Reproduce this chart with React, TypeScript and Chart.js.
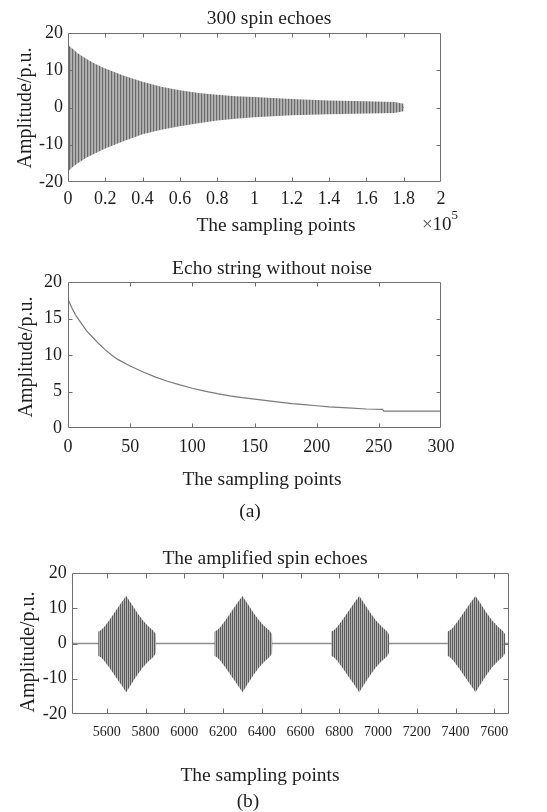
import React, { useEffect, useRef } from 'react';
import { Chart, registerables } from 'chart.js';

Chart.register(...registerables);

const SERIF = "'Liberation Serif', 'Times New Roman', Times, serif";
const INK = '#1e1e1e';
const FRAME = '#707070';

// ---- (a) upper panel: envelope of the 300-echo train ----
const trainX = [0, 2500, 5000, 10000, 15000, 20000, 30000, 40000, 50000, 60000, 70000, 80000, 90000, 100000, 120000, 140000, 160000, 175000, 180000];
const trainUpper = [16.8, 15.8, 14.6, 13.0, 11.6, 10.5, 8.5, 6.9, 5.6, 4.6, 3.9, 3.4, 3.0, 2.8, 2.3, 1.9, 1.7, 1.5, 1.0];
const trainLower = [-17.2, -16.0, -15.0, -13.4, -12.2, -11.0, -9.0, -7.2, -6.0, -5.0, -4.2, -3.5, -3.0, -2.6, -2.1, -1.8, -1.6, -1.5, -1.0];
const trainXTicks = [0, 20000, 40000, 60000, 80000, 100000, 120000, 140000, 160000, 180000, 200000];
const trainYTicks = [-20, -10, 0, 10, 20];

// ---- (a) lower panel: echo peak amplitudes ----
const echoIndex = [0, 3, 6, 10, 15, 20, 25, 30, 35, 40, 50, 60, 70, 80, 90, 100, 110, 120, 130, 140, 150, 160, 170, 180, 190, 200, 210, 225, 240, 253, 254, 300];
const echoAmplitude = [17.6, 16.5, 15.5, 14.5, 13.3, 12.4, 11.5, 10.7, 10.0, 9.4, 8.5, 7.7, 7.0, 6.4, 5.9, 5.45, 5.05, 4.7, 4.4, 4.15, 3.95, 3.75, 3.55, 3.35, 3.2, 3.05, 2.9, 2.75, 2.6, 2.55, 2.3, 2.3];
const echoXTicks = [0, 50, 100, 150, 200, 250, 300];
const echoYTicks = [0, 5, 10, 15, 20];

// ---- (b) amplified echoes ----
const burstStarts = [5555, 6155, 6758, 7358];
const burstOffsets = [0, 15, 30, 60, 90, 120, 145, 170, 200, 230, 260, 285, 298, 300];
const burstUpper = [3.3, 3.8, 4.6, 6.8, 9.2, 11.6, 13.5, 11.4, 8.9, 6.6, 4.8, 3.6, 2.6, 0];
const burstLower = [-3.5, -4.0, -4.8, -7.0, -9.4, -11.8, -13.8, -11.6, -9.1, -6.8, -5.0, -3.8, -2.8, 0];
const ampXRange = [5420, 7676];
const ampXTicks = [5600, 5800, 6000, 6200, 6400, 6600, 6800, 7000, 7200, 7400, 7600];
const ampYTicks = [-20, -10, 0, 10, 20];

const pts = (xs: number[], ys: number[]) => xs.map((x, i) => ({ x, y: ys[i] }));

// Box around the plot area with inward tick marks on all four sides
const frameTicks = {
  id: 'frameTicks',
  afterDraw(chart: any, _args: any, opts: any) {
    const { ctx, chartArea: a, scales } = chart;
    const len = opts.len ?? 4;
    ctx.save();
    ctx.strokeStyle = FRAME;
    ctx.lineWidth = 1;
    ctx.beginPath();
    const L = Math.round(a.left) + 0.5, R = Math.round(a.right) - 0.5;
    const T = Math.round(a.top) + 0.5, B = Math.round(a.bottom) - 0.5;
    ctx.rect(L, T, R - L, B - T);
    for (const t of scales.x.ticks) {
      const px = Math.round(scales.x.getPixelForValue(t.value)) + 0.5;
      if (px <= L + 1 || px >= R - 1) continue;
      ctx.moveTo(px, B); ctx.lineTo(px, B - len);
      ctx.moveTo(px, T); ctx.lineTo(px, T + len);
    }
    for (const t of scales.y.ticks) {
      const py = Math.round(scales.y.getPixelForValue(t.value)) + 0.5;
      if (py <= T + 1 || py >= B - 1) continue;
      ctx.moveTo(L, py); ctx.lineTo(L + len, py);
      ctx.moveTo(R, py); ctx.lineTo(R - len, py);
    }
    ctx.stroke();
    ctx.restore();
  },
};

// Vertical hatch used to fill the oscillating echo bands
function stripes(ctx: CanvasRenderingContext2D, cols: string[]) {
  const c = document.createElement('canvas');
  c.width = cols.length;
  c.height = 4;
  const g = c.getContext('2d')!;
  cols.forEach((col, i) => {
    g.fillStyle = col;
    g.fillRect(i, 0, 1, 4);
  });
  return ctx.createPattern(c, 'repeat')!;
}

type AxisSpec = {
  min: number; max: number; ticks: number[]; size: number; pad: number;
  fmt?: (v: number) => string; fontSize: number;
};

function axis(spec: AxisSpec, horizontal: boolean) {
  return {
    type: 'linear',
    min: spec.min,
    max: spec.max,
    grid: { display: false, drawTicks: false },
    border: { display: false },
    afterBuildTicks: (s: any) => { s.ticks = spec.ticks.map((value) => ({ value })); },
    afterFit: (s: any) => { if (horizontal) s.height = spec.size; else s.width = spec.size; },
    ticks: {
      padding: spec.pad,
      color: INK,
      autoSkip: false,
      maxRotation: 0,
      font: { family: SERIF, size: spec.fontSize, lineHeight: 1.2 },
      callback: (v: any) => (spec.fmt ? spec.fmt(Number(v)) : String(v)),
    },
  };
}

function baseOptions(padTop: number, padRight: number, x: any, y: any, tickLen: number) {
  return {
    responsive: false,
    animation: false,
    events: [],
    layout: { padding: { left: 0, right: padRight, top: padTop, bottom: 0 } },
    elements: { point: { radius: 0 }, line: { tension: 0 } },
    plugins: {
      legend: { display: false },
      tooltip: { enabled: false },
      title: { display: false },
      frameTicks: { len: tickLen },
    },
    scales: { x, y },
  };
}

const TXT = 19.5;

function Label({ cx, cy, text, size = TXT, vertical = false, children }: any) {
  return (
    <div
      style={{
        position: 'absolute',
        left: cx,
        top: cy,
        transform: vertical ? 'translate(-50%, -50%) rotate(-90deg)' : 'translate(-50%, -50%)',
        fontFamily: SERIF,
        fontSize: size,
        lineHeight: 1,
        paddingTop: size * 0.2,
        color: INK,
        whiteSpace: 'nowrap',
      }}
    >
      {text}
      {children}
    </div>
  );
}

export default function App() {
  const c1 = useRef<HTMLCanvasElement>(null);
  const c2 = useRef<HTMLCanvasElement>(null);
  const c3 = useRef<HTMLCanvasElement>(null);

  useEffect(() => {
    const charts: Chart[] = [];

    // 300 spin echoes
    const ctx1 = c1.current!.getContext('2d')!;
    const trainFill = stripes(ctx1, ['#6a6a6a', '#a8a8a8', '#b2b2b2']);
    charts.push(new Chart(ctx1, {
      type: 'line',
      data: {
        datasets: [
          { data: pts(trainX, trainUpper), borderWidth: 0, borderColor: 'rgba(0,0,0,0)', fill: '+1', backgroundColor: trainFill },
          { data: pts(trainX, trainLower), borderWidth: 0, borderColor: 'rgba(0,0,0,0)', fill: false },
          { data: [{ x: trainX[0], y: 0 }, { x: trainX[trainX.length - 1], y: 0 }], borderWidth: 1, borderColor: '#4a4a4a', fill: false },
        ],
      },
      options: baseOptions(33, 106,
        axis({ min: 0, max: 200000, ticks: trainXTicks, size: 58, pad: 6.2, fontSize: 18,
          fmt: (v) => String(Math.round(v / 1e4) / 10) }, true),
        axis({ min: -20, max: 20, ticks: trainYTicks, size: 68, pad: 5, fontSize: 18 }, false), 4) as any,
      plugins: [frameTicks],
    }));

    // Echo string without noise
    const ctx2 = c2.current!.getContext('2d')!;
    charts.push(new Chart(ctx2, {
      type: 'line',
      data: {
        datasets: [
          { data: pts(echoIndex, echoAmplitude), borderWidth: 1.2, borderColor: '#7a7a7a', fill: false },
        ],
      },
      options: baseOptions(42, 106,
        axis({ min: 0, max: 300, ticks: echoXTicks, size: 62, pad: 8.7, fontSize: 18 }, true),
        axis({ min: 0, max: 20, ticks: echoYTicks, size: 68, pad: 6, fontSize: 18 }, false), 4) as any,
      plugins: [frameTicks],
    }));

    // The amplified spin echoes
    const ctx3 = c3.current!.getContext('2d')!;
    const burstFill = stripes(ctx3, ['#5a5a5a', '#b4b4b4']);
    const burstSets: any[] = [];
    burstStarts.forEach((s) => {
      const xs = burstOffsets.map((o) => s + o);
      burstSets.push({ data: pts(xs, burstUpper), borderWidth: 0, borderColor: 'rgba(0,0,0,0)', fill: '+1', backgroundColor: burstFill });
      burstSets.push({ data: pts(xs, burstLower), borderWidth: 0, borderColor: 'rgba(0,0,0,0)', fill: false });
    });
    // baseline last so it is painted first, underneath the bursts
    burstSets.push({ data: [{ x: ampXRange[0], y: 0 }, { x: ampXRange[1], y: 0 }], borderWidth: 1.5, borderColor: '#8e8e8e', fill: false });
    charts.push(new Chart(ctx3, {
      type: 'line',
      data: { datasets: burstSets },
      options: baseOptions(53, 38,
        axis({ min: ampXRange[0], max: ampXRange[1], ticks: ampXTicks, size: 76, pad: 9.6, fontSize: 14 }, true),
        axis({ min: -20, max: 20, ticks: ampYTicks, size: 72, pad: 5.3, fontSize: 18 }, false), 5) as any,
      plugins: [frameTicks],
    }));

    return () => charts.forEach((c) => c.destroy());
  }, []);

  return (
    <div style={{ position: 'absolute', left: 0, top: 0, width: 547, height: 812, background: '#fff', overflow: 'hidden' }}>
      <canvas ref={c1} width={547} height={240} style={{ position: 'absolute', left: 0, top: 0 }} />
      <canvas ref={c2} width={547} height={250} style={{ position: 'absolute', left: 0, top: 240 }} />
      <canvas ref={c3} width={547} height={270} style={{ position: 'absolute', left: 0, top: 520 }} />

      <Label cx={269} cy={16} text="300 spin echoes" />
      <Label cx={22} cy={108} text="Amplitude/p.u." size={20} vertical />
      <Label cx={276} cy={223} text="The sampling points" />
      <Label cx={440} cy={221} text="" size={19}>
        <span style={{ color: '#555' }}>×</span>10<sup style={{ fontSize: 13, verticalAlign: 'top', position: 'relative', top: -6 }}>5</sup>
      </Label>

      <Label cx={272} cy={266} text="Echo string without noise" />
      <Label cx={23} cy={357} text="Amplitude/p.u." size={20} vertical />
      <Label cx={262} cy={477} text="The sampling points" />
      <Label cx={250} cy={509} text="(a)" />

      <Label cx={265} cy={556} text="The amplified spin echoes" />
      <Label cx={25} cy={652} text="Amplitude/p.u." size={20} vertical />
      <Label cx={260} cy={773} text="The sampling points" />
      <Label cx={248} cy={799} text="(b)" />
    </div>
  );
}
